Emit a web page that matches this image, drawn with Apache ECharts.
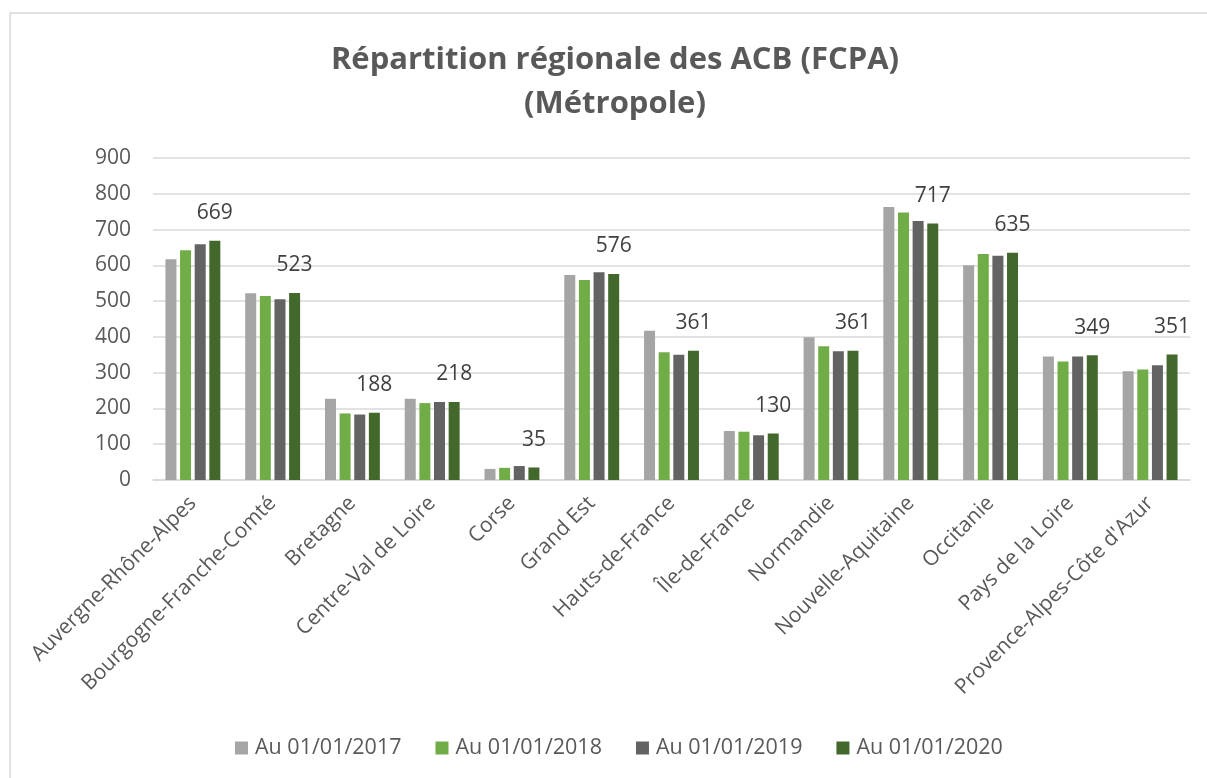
<!DOCTYPE html>
<html><head><meta charset="utf-8">
<script src="https://cdn.jsdelivr.net/npm/echarts@6/dist/echarts.min.js"></script>
<style>html,body{margin:0;padding:0;background:#fff}#c{width:1207px;height:778px}</style>
</head><body><div id="c"></div>
<script>
const categories = ["Auvergne-Rhône-Alpes","Bourgogne-Franche-Comté","Bretagne","Centre-Val de Loire","Corse","Grand Est","Hauts-de-France","Île-de-France","Normandie","Nouvelle-Aquitaine","Occitanie","Pays de la Loire","Provence-Alpes-Côte d'Azur"];
const seriesNames = ["Au 01/01/2017","Au 01/01/2018","Au 01/01/2019","Au 01/01/2020"];
const v2017 = [617,522,227,227,31,573,417,137,399,763,600,345,304];
const v2018 = [642,514,186,215,34,559,357,135,374,748,632,331,309];
const v2019 = [659,505,183,218,39,581,350,125,360,724,627,345,321];
const v2020 = [669,523,188,218,35,576,361,130,361,717,635,349,351];
const yTicks = [0,100,200,300,400,500,600,700,800,900];

const colors = ['#a5a5a5','#70ad47','#636363','#43682b'];
const font = '"Open Sans", sans-serif';
const allVals = [v2017,v2018,v2019,v2020];
const chart = echarts.init(document.getElementById('c'));
chart.setOption({
  animation:false,
  color: colors,
  graphic:[{type:'rect',shape:{x:10,y:13,width:1300,height:900},style:{fill:'none',stroke:'#d9d9d9',lineWidth:1.5},silent:true}],
  title:{text:'Répartition régionale des ACB (FCPA)\n(Métropole)',left:615,textAlign:'center',top:38,padding:0,
    textStyle:{fontFamily:font,fontSize:31,fontWeight:'bold',color:'#595959',lineHeight:44}},
  legend:{bottom:14,left:230,itemWidth:13,itemHeight:13,itemGap:34,icon:'rect',
    textStyle:{fontFamily:font,fontSize:21.5,color:'#595959',padding:[0,0,0,2]},data:seriesNames},
  grid:{left:153,right:17,top:158,bottom:298,containLabel:false},
  xAxis:{type:'category',data:categories,
    axisLine:{lineStyle:{color:'#d9d9d9',width:1.5}},axisTick:{show:false},
    axisLabel:{rotate:45,interval:0,margin:20,fontFamily:font,fontSize:21,color:'#595959'}},
  yAxis:{type:'value',min:yTicks[0],max:yTicks[yTicks.length-1],interval:100,
    axisLine:{show:false},axisTick:{show:false},
    splitLine:{lineStyle:{color:'#d9d9d9',width:1.5}},
    axisLabel:{margin:22,fontFamily:font,fontSize:21,color:'#595959'}},
  series: seriesNames.map((n,i)=>({
    name:n,type:'bar',data:allVals[i],barWidth:11,barGap:'33%',
    label: i===3 ? {show:true,position:'top',distance:17,fontFamily:font,fontSize:21,color:'#404040'} : {show:false}
  }))
});
</script></body></html>
